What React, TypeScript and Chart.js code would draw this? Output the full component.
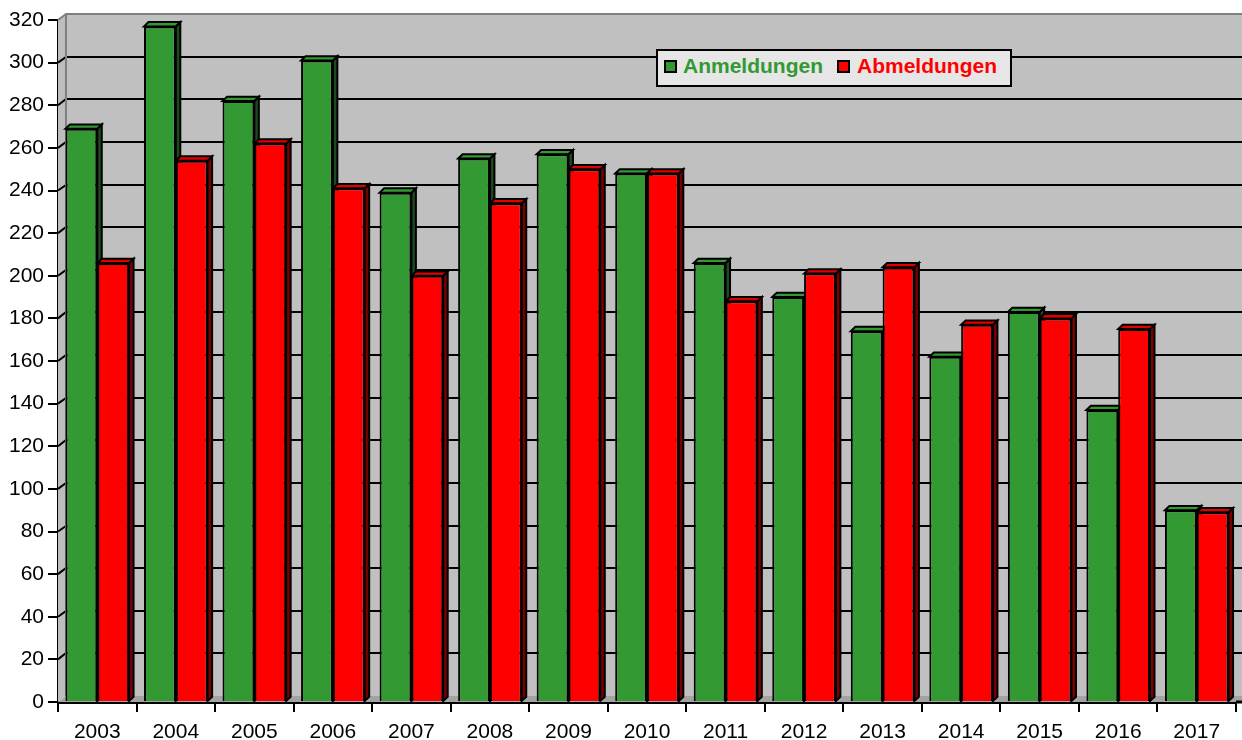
import React, { useEffect, useRef } from "react";
import { Chart, registerables } from "chart.js";

Chart.register(...registerables);

const years = ["2003", "2004", "2005", "2006", "2007", "2008", "2009", "2010", "2011", "2012", "2013", "2014", "2015", "2016", "2017"];
const anmeldungen = [269, 317, 282, 301, 239, 255, 257, 248, 206, 190, 174, 162, 183, 137, 90];
const abmeldungen = [206, 254, 262, 241, 200, 234, 250, 248, 188, 201, 204, 177, 180, 175, 89];
const seriesNames = ["Anmeldungen", "Abmeldungen"];
const yMin = 0;
const yMax = 320;
const yStep = 20;

const FRONT = ["#339933", "#FF0000"];
const SIDE = ["#1C4A1C", "#7A0000"];
const TOP = ["#339933", "#E00000"];
const BAR_DX = 4.5;
const BAR_DY = -4.3;
const WALL_DX = 8;
const WALL_DY = -6;
const FONT = "'Liberation Sans', Arial, sans-serif";

const threeD = {
  id: "threeD",
  beforeDatasetsDraw(chart: any) {
    const { ctx, chartArea: ca, scales } = chart;
    const ys = scales.y;
    const W = chart.width;
    ctx.save();
    // back wall
    ctx.fillStyle = "#C0C0C0";
    ctx.fillRect(ca.left + WALL_DX, ca.top + WALL_DY, W - (ca.left + WALL_DX), ca.bottom - ca.top);
    // side wall
    ctx.beginPath();
    ctx.moveTo(ca.left, ca.top);
    ctx.lineTo(ca.left + WALL_DX, ca.top + WALL_DY);
    ctx.lineTo(ca.left + WALL_DX, ca.bottom + WALL_DY);
    ctx.lineTo(ca.left, ca.bottom);
    ctx.closePath();
    ctx.fillStyle = "#BDBDBD";
    ctx.fill();
    // floor
    ctx.beginPath();
    ctx.moveTo(ca.left, ca.bottom);
    ctx.lineTo(ca.left + WALL_DX, ca.bottom + WALL_DY);
    ctx.lineTo(W, ca.bottom + WALL_DY);
    ctx.lineTo(W, ca.bottom);
    ctx.closePath();
    ctx.fillStyle = "#A3A3A3";
    ctx.fill();
    // gridlines on back wall and side wall
    ctx.strokeStyle = "#000";
    ctx.lineWidth = 2;
    for (let v = yMin + yStep; v < yMax; v += yStep) {
      const p = ys.getPixelForValue(v);
      const py = Math.round(p + WALL_DY);
      ctx.beginPath();
      ctx.moveTo(ca.left, p);
      ctx.lineTo(ca.left + WALL_DX, py);
      ctx.lineTo(W, py);
      ctx.stroke();
    }
    // wall edges
    ctx.strokeStyle = "#808080";
    ctx.lineWidth = 2;
    ctx.beginPath();
    ctx.moveTo(ca.left, ca.top);
    ctx.lineTo(ca.left + WALL_DX, ca.top + WALL_DY);
    ctx.lineTo(W, ca.top + WALL_DY);
    ctx.moveTo(ca.left + WALL_DX, ca.top + WALL_DY);
    ctx.lineTo(ca.left + WALL_DX, ca.bottom + WALL_DY);
    ctx.stroke();
    // bar side and top faces
    ctx.strokeStyle = "#000";
    ctx.lineWidth = 2;
    ctx.lineJoin = "miter";
    chart.data.datasets.forEach((_ds: any, i: number) => {
      const meta = chart.getDatasetMeta(i);
      meta.data.forEach((bar: any) => {
        const { x, y, base, width } = bar.getProps(["x", "y", "base", "width"], true);
        const l = x - width / 2;
        const r = x + width / 2;
        ctx.beginPath();
        ctx.moveTo(r, y);
        ctx.lineTo(r + BAR_DX, y + BAR_DY);
        ctx.lineTo(r + BAR_DX, base + BAR_DY);
        ctx.lineTo(r, base);
        ctx.closePath();
        ctx.fillStyle = SIDE[i];
        ctx.fill();
        ctx.stroke();
        ctx.beginPath();
        ctx.moveTo(l, y);
        ctx.lineTo(l + BAR_DX, y + BAR_DY);
        ctx.lineTo(r + BAR_DX, y + BAR_DY);
        ctx.lineTo(r, y);
        ctx.closePath();
        ctx.fillStyle = TOP[i];
        ctx.fill();
        ctx.stroke();
      });
    });
    ctx.restore();
  },
  afterDraw(chart: any) {
    const { ctx, chartArea: ca } = chart;
    ctx.save();
    ctx.strokeStyle = "#000";
    ctx.lineWidth = 3;
    ctx.beginPath();
    ctx.moveTo(ca.right, ca.bottom);
    ctx.lineTo(chart.width, ca.bottom);
    ctx.stroke();
    ctx.restore();
  },
};

export default function App() {
  const ref = useRef<HTMLCanvasElement>(null);
  useEffect(() => {
    if (!ref.current) return;
    const chart = new Chart(ref.current, {
      type: "bar",
      data: {
        labels: years,
        datasets: [
          { label: seriesNames[0], data: anmeldungen, backgroundColor: FRONT[0], borderColor: "#000", borderWidth: 2 },
          { label: seriesNames[1], data: abmeldungen, backgroundColor: FRONT[1], borderColor: "#000", borderWidth: 2 },
        ],
      },
      options: {
        responsive: false,
        animation: false,
        layout: { padding: { top: 20, right: 6, left: 0, bottom: 0 } },
        datasets: { bar: { categoryPercentage: 0.81, barPercentage: 1 } },
        plugins: { legend: { display: false }, tooltip: { enabled: false } },
        scales: {
          x: {
            grid: { offset: true, drawOnChartArea: false, drawTicks: true, tickLength: 10, color: "#000", lineWidth: 2 },
            border: { display: true, color: "#000", width: 3 },
            ticks: { color: "#000", font: { family: FONT, size: 21 }, padding: 8, maxRotation: 0 },
            afterFit: (s: any) => { s.height = 38; },
          },
          y: {
            min: yMin,
            max: yMax,
            grid: { drawOnChartArea: false, drawTicks: true, tickLength: 10, color: "#000", lineWidth: 2 },
            border: { display: true, color: "#000", width: 2 },
            ticks: { stepSize: yStep, color: "#000", font: { family: FONT, size: 21 }, padding: 4 },
            afterFit: (s: any) => { s.width = 58; },
          },
        },
      },
      plugins: [threeD],
    });
    return () => chart.destroy();
  }, []);

  const textStyle: React.CSSProperties = {
    position: "absolute",
    top: 55,
    fontFamily: FONT,
    fontWeight: "bold",
    fontSize: 21,
    lineHeight: "21px",
    whiteSpace: "nowrap",
  };
  const sq: React.CSSProperties = {
    position: "absolute",
    top: 60,
    width: 9,
    height: 9,
    border: "2px solid #000",
  };

  return (
    <div style={{ position: "absolute", left: 0, top: 0, width: 1242, height: 740, background: "#fff", overflow: "hidden" }}>
      <canvas ref={ref} width={1242} height={740} style={{ position: "absolute", left: 0, top: 0 }} />
      <div style={{ position: "absolute", left: 656, top: 49, width: 352, height: 34, background: "#E6E6E6", border: "2px solid #000" }} />
      <div style={{ ...sq, left: 664, background: FRONT[0] }} />
      <div style={{ ...textStyle, left: 683, color: FRONT[0] }}>{seriesNames[0]}</div>
      <div style={{ ...sq, left: 837, background: FRONT[1] }} />
      <div style={{ ...textStyle, left: 857, color: FRONT[1] }}>{seriesNames[1]}</div>
    </div>
  );
}
